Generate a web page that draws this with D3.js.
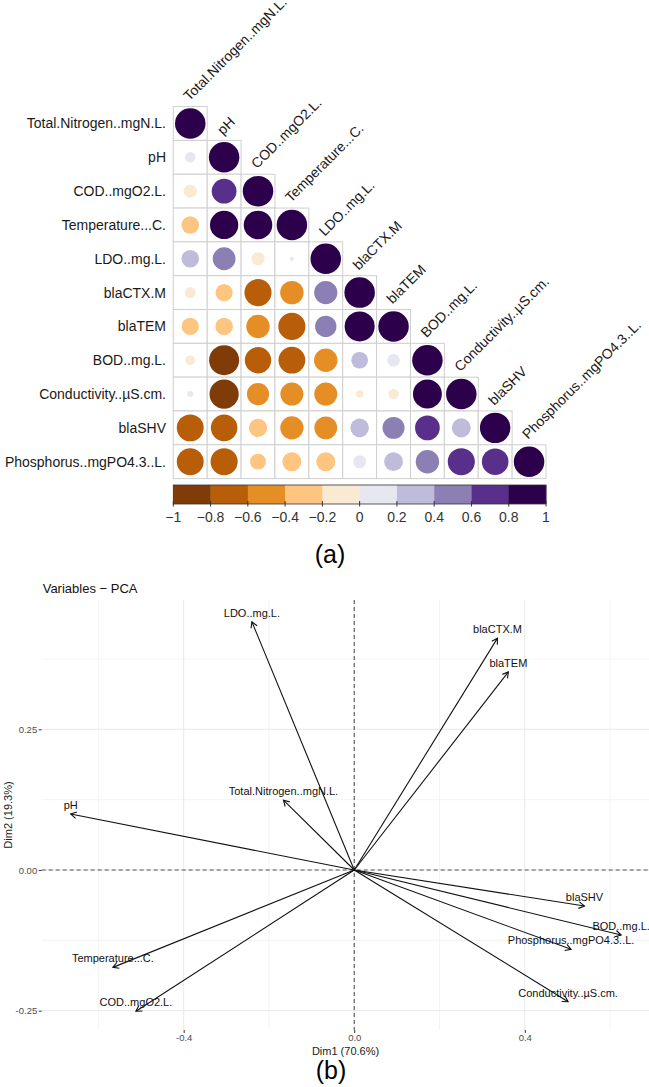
<!DOCTYPE html>
<html><head><meta charset="utf-8">
<script src="https://cdn.jsdelivr.net/npm/d3@7"></script>
<style>
body{margin:0;background:#fff}
svg{display:block}
text{font-family:"Liberation Sans",Arial,Helvetica,sans-serif}
</style>
</head><body>
<svg id="chart" width="649" height="1087"></svg>
<script>
// ---------- Panel (a): correlation matrix ----------
const variables = ["Total.Nitrogen..mgN.L.","pH","COD..mgO2.L.","Temperature...C.","LDO..mg.L.",
  "blaCTX.M","blaTEM","BOD..mg.L.","Conductivity..\u00b5S.cm.","blaSHV","Phosphorus..mgPO4.3..L."];
// lower triangle rows (including diagonal)
const corrRow0  = [1];
const corrRow1  = [0.12, 1];
const corrRow2  = [-0.19, 0.66, 1];
const corrRow3  = [-0.33, 0.86, 0.88, 1];
const corrRow4  = [0.33, 0.56, -0.19, 0.02, 1];
const corrRow5  = [-0.13, -0.32, -0.79, -0.59, 0.58, 1];
const corrRow6  = [-0.32, -0.33, -0.59, -0.79, 0.49, 0.97, 1];
const corrRow7  = [-0.1, -0.97, -0.75, -0.77, -0.59, 0.3, 0.17, 1];
const corrRow8  = [0.04, -0.92, -0.53, -0.57, -0.57, -0.06, -0.12, 0.9, 1];
const corrRow9  = [-0.78, -0.76, -0.36, -0.58, -0.56, 0.37, 0.52, 0.66, 0.39, 1];
const corrRow10 = [-0.78, -0.79, -0.27, -0.39, -0.39, 0.18, 0.38, 0.59, 0.79, 0.76, 1];
const corrRows = [corrRow0,corrRow1,corrRow2,corrRow3,corrRow4,corrRow5,corrRow6,corrRow7,corrRow8,corrRow9,corrRow10];
const legendTicks = [-1,-0.8,-0.6,-0.4,-0.2,0,0.2,0.4,0.6,0.8,1];
const puorPalette = ["#7f3b08","#b35806","#e08214","#fdb863","#fee0b6","#f7f7f7","#d8daeb","#b2abd2","#8073ac","#542788","#2d004b"];

// ---------- Panel (b): PCA variables ----------
const pcaNames = ["LDO..mg.L.","blaCTX.M","blaTEM","Total.Nitrogen..mgN.L.","pH","blaSHV","BOD..mg.L.",
  "Phosphorus..mgPO4.3..L.","Conductivity..\u00b5S.cm.","Temperature...C.","COD..mgO2.L."];
const pcaDim1 = [-0.240, 0.336, 0.3615, -0.166, -0.665, 0.540, 0.626, 0.5086, 0.5016, -0.566, -0.512];
const pcaDim2 = [0.441, 0.412, 0.352, 0.124, 0.0995, -0.064, -0.1155, -0.141, -0.234, -0.173, -0.251];
const pcaXTicks = [-0.4, 0.0, 0.4];
const pcaYTicks = [0.25, 0.00, -0.25];
const pcaXMinor = [-0.6, -0.2, 0.2, 0.6];
const pcaYMinor = [0.375, 0.125, -0.125];

const svg = d3.select("#chart");
svg.append("rect").attr("width",649).attr("height",1087).attr("fill","#fff");

// ---- corr matrix ----
const ramp = d3.piecewise(d3.interpolateRgb, puorPalette);
const binColors = d3.range(10).map(i => ramp(i/9));
const colorScale = d3.scaleQuantize().domain([-1,1]).range(binColors);
const colorOf = v => v >= 1 ? binColors[9] : colorScale(v);

const xb = d3.scaleBand().domain(variables).range([173.3, 546]);
const yb = d3.scaleBand().domain(variables).range([106.6, 478.6]);
const rScale = d3.scaleSqrt().domain([0,1]).range([0, 0.45*xb.bandwidth()]);

const cells = [];
corrRows.forEach((row,i) => row.forEach((v,j) => cells.push({row:variables[i], col:variables[j], v})));

const gA = svg.append("g");
gA.selectAll("rect.cell").data(cells).join("rect").attr("class","cell")
  .attr("x", d => xb(d.col)).attr("y", d => yb(d.row))
  .attr("width", xb.bandwidth()).attr("height", yb.bandwidth())
  .attr("fill","#fff").attr("stroke","#cfcfcf").attr("stroke-width",1);
gA.selectAll("circle").data(cells).join("circle")
  .attr("cx", d => xb(d.col) + xb.bandwidth()/2)
  .attr("cy", d => yb(d.row) + yb.bandwidth()/2)
  .attr("r", d => rScale(Math.abs(d.v)))
  .attr("fill", d => colorOf(d.v));

gA.selectAll("text.rowlab").data(variables).join("text").attr("class","rowlab")
  .attr("x", 166).attr("y", d => yb(d) + yb.bandwidth()/2).attr("dy","0.35em")
  .attr("text-anchor","end").attr("font-size",14).attr("fill","#1a1a1a").text(d => d);
gA.selectAll("text.collab").data(variables).join("text").attr("class","collab")
  .attr("transform", d => `translate(${xb(d)+xb.bandwidth()/2-1},${yb(d)-5}) rotate(-45)`)
  .attr("text-anchor","start").attr("font-size",14).attr("fill","#1a1a1a").text(d => d);

// legend
const lx = d3.scaleLinear().domain([-1,1]).range([173.3, 546]);
const legY = 485, legH = 19;
gA.selectAll("rect.leg").data(d3.range(10)).join("rect").attr("class","leg")
  .attr("x", i => lx(legendTicks[i])).attr("y", legY)
  .attr("width", i => lx(legendTicks[i+1]) - lx(legendTicks[i]) + 0.3).attr("height", legH)
  .attr("fill", i => binColors[i]);
gA.append("rect").attr("x", lx(-1)).attr("y", legY).attr("width", lx(1)-lx(-1)).attr("height", legH)
  .attr("fill","none").attr("stroke","#333").attr("stroke-width",0.8);
gA.selectAll("line.legtick").data(legendTicks).join("line").attr("class","legtick")
  .attr("x1", d => lx(d)).attr("x2", d => lx(d)).attr("y1", legY+legH-3).attr("y2", legY+legH+2.5)
  .attr("stroke","#333").attr("stroke-width",1);
gA.selectAll("text.legtxt").data(legendTicks).join("text").attr("class","legtxt")
  .attr("x", d => lx(d)).attr("y", 522).attr("text-anchor","middle").attr("font-size",14).attr("fill","#333")
  .text(d => d < 0 ? "\u2212" + Math.abs(d) : String(d));

svg.append("text").attr("x",330).attr("y",563).attr("text-anchor","middle")
  .attr("font-family","'Liberation Serif','Times New Roman',serif").attr("font-size",25).attr("fill","#000").text("(a)");

// ---- PCA ----
const xS = d3.scaleLinear().domain([-0.733, 0.692]).range([41.7, 649.3]);
const yS = d3.scaleLinear().domain([-0.2843, 0.4798]).range([1030, 600]);
const gB = svg.append("g");
const [px0, px1] = xS.range(), [py0, py1] = yS.range();

gB.selectAll("line.vminor").data(pcaXMinor).join("line")
  .attr("x1", d => xS(d)).attr("x2", d => xS(d)).attr("y1", py1).attr("y2", py0)
  .attr("stroke","#f0f0f0").attr("stroke-width",0.8);
gB.selectAll("line.hminor").data(pcaYMinor).join("line")
  .attr("y1", d => yS(d)).attr("y2", d => yS(d)).attr("x1", px0).attr("x2", px1)
  .attr("stroke","#f0f0f0").attr("stroke-width",0.8);
gB.selectAll("line.vmajor").data(pcaXTicks).join("line")
  .attr("x1", d => xS(d)).attr("x2", d => xS(d)).attr("y1", py1).attr("y2", py0)
  .attr("stroke","#e8e8e8").attr("stroke-width",1);
gB.selectAll("line.hmajor").data(pcaYTicks).join("line")
  .attr("y1", d => yS(d)).attr("y2", d => yS(d)).attr("x1", px0).attr("x2", px1)
  .attr("stroke","#e8e8e8").attr("stroke-width",1);

// dashed zero lines
gB.append("line").attr("x1", xS(0)).attr("x2", xS(0)).attr("y1", py1).attr("y2", py0)
  .attr("stroke","#555").attr("stroke-width",1.1).attr("stroke-dasharray","4,3");
gB.append("line").attr("y1", yS(0)).attr("y2", yS(0)).attr("x1", px0).attr("x2", px1)
  .attr("stroke","#555").attr("stroke-width",1.1).attr("stroke-dasharray","4,3");

// axes
const yAxis = d3.axisLeft(yS).tickValues(pcaYTicks).tickSize(3).tickPadding(1.5).tickFormat(d => d.toFixed(2));
const gy = gB.append("g").attr("transform",`translate(${px0},0)`).call(yAxis);
const xAxis = d3.axisBottom(xS).tickValues(pcaXTicks).tickSize(3).tickPadding(1.5).tickFormat(d => d.toFixed(1));
const gx = gB.append("g").attr("transform",`translate(0,${py0})`).call(xAxis);
[gx, gy].forEach(g => {
  g.select(".domain").remove();
  g.selectAll(".tick line").attr("stroke","#333");
  g.selectAll(".tick text").attr("fill","#4d4d4d").attr("font-size",9.5)
    .attr("font-family","'Liberation Sans',Arial,sans-serif");
});

// arrows
const pcaData = pcaNames.map((n,i) => ({name:n, x:pcaDim1[i], y:pcaDim2[i]}));
const ox = xS(0), oy = yS(0);
gB.selectAll("line.arrow").data(pcaData).join("line").attr("class","arrow")
  .attr("x1", ox).attr("y1", oy).attr("x2", d => xS(d.x)).attr("y2", d => yS(d.y))
  .attr("stroke","#111").attr("stroke-width",1.1);
gB.selectAll("path.head").data(pcaData).join("path").attr("class","head")
  .attr("d", d => {
    const ex = xS(d.x), ey = yS(d.y);
    const a = Math.atan2(ey - oy, ex - ox), L = 6.5, h = Math.PI/6;
    const p = d3.path();
    p.moveTo(ex - L*Math.cos(a - h), ey - L*Math.sin(a - h));
    p.lineTo(ex, ey);
    p.lineTo(ex - L*Math.cos(a + h), ey - L*Math.sin(a + h));
    return p.toString();
  })
  .attr("fill","none").attr("stroke","#111").attr("stroke-width",1.1);
gB.selectAll("text.plab").data(pcaData).join("text").attr("class","plab")
  .attr("x", d => xS(d.x)).attr("y", d => yS(d.y) - 5)
  .attr("text-anchor","middle").attr("font-size",11).attr("fill","#111").text(d => d.name);

// titles
svg.append("text").attr("x",42.7).attr("y",592.5).attr("font-size",13).attr("fill","#111").text("Variables \u2212 PCA");
svg.append("text").attr("x",(px0+px1)/2).attr("y",1055).attr("text-anchor","middle").attr("font-size",11).attr("fill","#222").text("Dim1 (70.6%)");
svg.append("text").attr("transform",`translate(11.5,${(py0+py1)/2}) rotate(-90)`).attr("text-anchor","middle").attr("font-size",11).attr("fill","#222").text("Dim2 (19.3%)");
svg.append("text").attr("x",331).attr("y",1079).attr("text-anchor","middle")
  .attr("font-family","'Liberation Serif','Times New Roman',serif").attr("font-size",25).attr("fill","#000").text("(b)");
</script>
</body></html>
